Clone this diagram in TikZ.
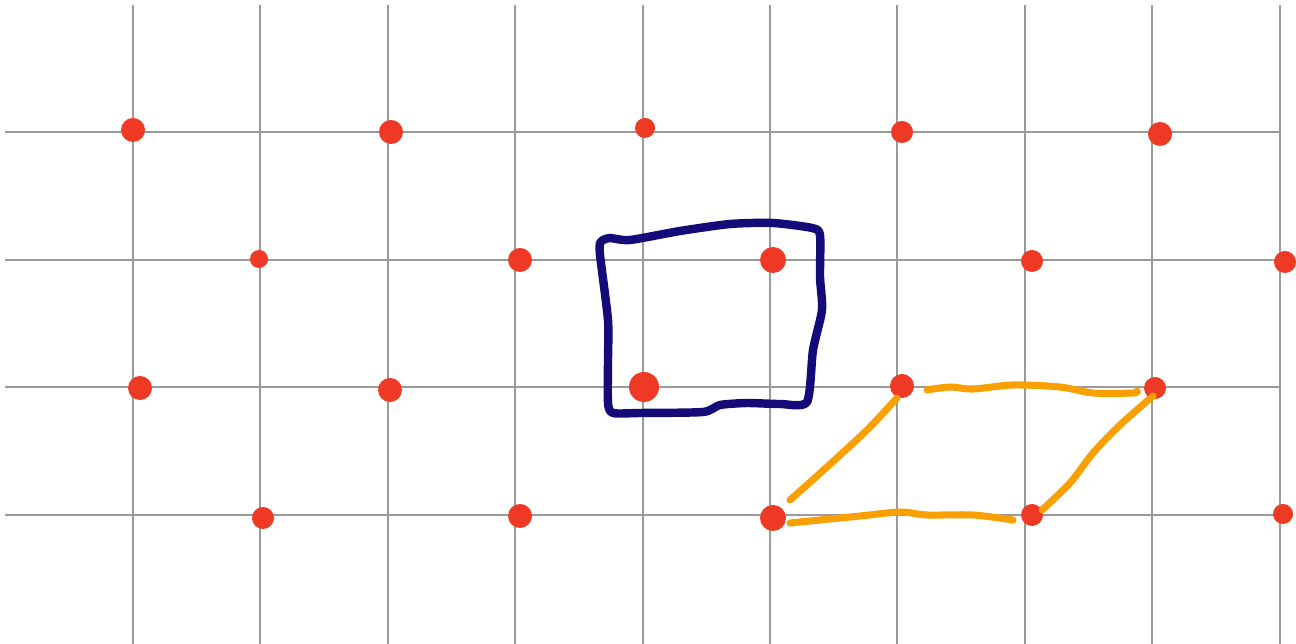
\documentclass[tikz,border=0pt]{standalone}
\usetikzlibrary{calc}
\definecolor{gridgray}{HTML}{9A9A9A}
\definecolor{dotred}{HTML}{EE3A24}
\definecolor{penblue}{HTML}{140A78}
\definecolor{penorange}{HTML}{F9A000}
\tikzset{
  gridline/.style={gridgray,line width=0.6pt},
  bluepen/.style={penblue,line width=4.8pt,line cap=round,line join=round},
  orangepen/.style={penorange,line width=4pt,line cap=round,line join=round},
}
\begin{document}
\begin{tikzpicture}[x=0.02cm,y=-0.02cm]
  \useasboundingbox (0,0) rectangle (1296,644);
  % 格子
  \foreach \gx in {133,260,388,515,643,770,897,1025,1152,1280}
    \draw[gridline] (\gx,5) -- (\gx,644);
  \foreach \gy in {132,260,387,515}
    \draw[gridline] (5,\gy) -- (1280,\gy);
  % 格子点
  \foreach \px/\py/\r in {133/130/12,391/132/12,645/128/10,902/132/11,1160/134/12,
      259/259/9,520/260/12,773/260/13,1032/261/11,1285/262/11,
      140/388/12,390/390/12,644/387/15,902/386/12,1155/388/11,
      263/518/11,520/516/12,773/518/13,1032/515/11,1283/514/10}
    \fill[dotred] (\px,\py) circle (\r);
  % 正方形（手描き）
  \draw[bluepen] plot[smooth,tension=0.4] coordinates {(600,243) (603,240) (610,238) (630,240)
    (680,231) (730,224) (773,223) (812,228) (820,235) (820,277) (822,310) (813,350)
    (807,402) (780,404) (747,403) (720,405) (703,412) (640,413) (613,413) (608,403)
    (608,360) (608,320) (600,255) (600,243)};
  % 平行四辺形（手描き）
  \draw[orangepen] plot[smooth,tension=0.5] coordinates {(790,500) (827,467) (867,430) (897,398)};
  \draw[orangepen] plot[smooth,tension=0.5] coordinates {(927,390) (950,387) (973,389) (1013,385)
    (1060,387) (1093,393) (1133,393) (1137,391)};
  \draw[orangepen] plot[smooth,tension=0.5] coordinates {(1153,396) (1120,425) (1093,453) (1070,483) (1042,510)};
  \draw[orangepen] plot[smooth,tension=0.5] coordinates {(790,523) (860,516) (900,512) (927,515)
    (973,515) (1013,520)};
\end{tikzpicture}
\end{document}
